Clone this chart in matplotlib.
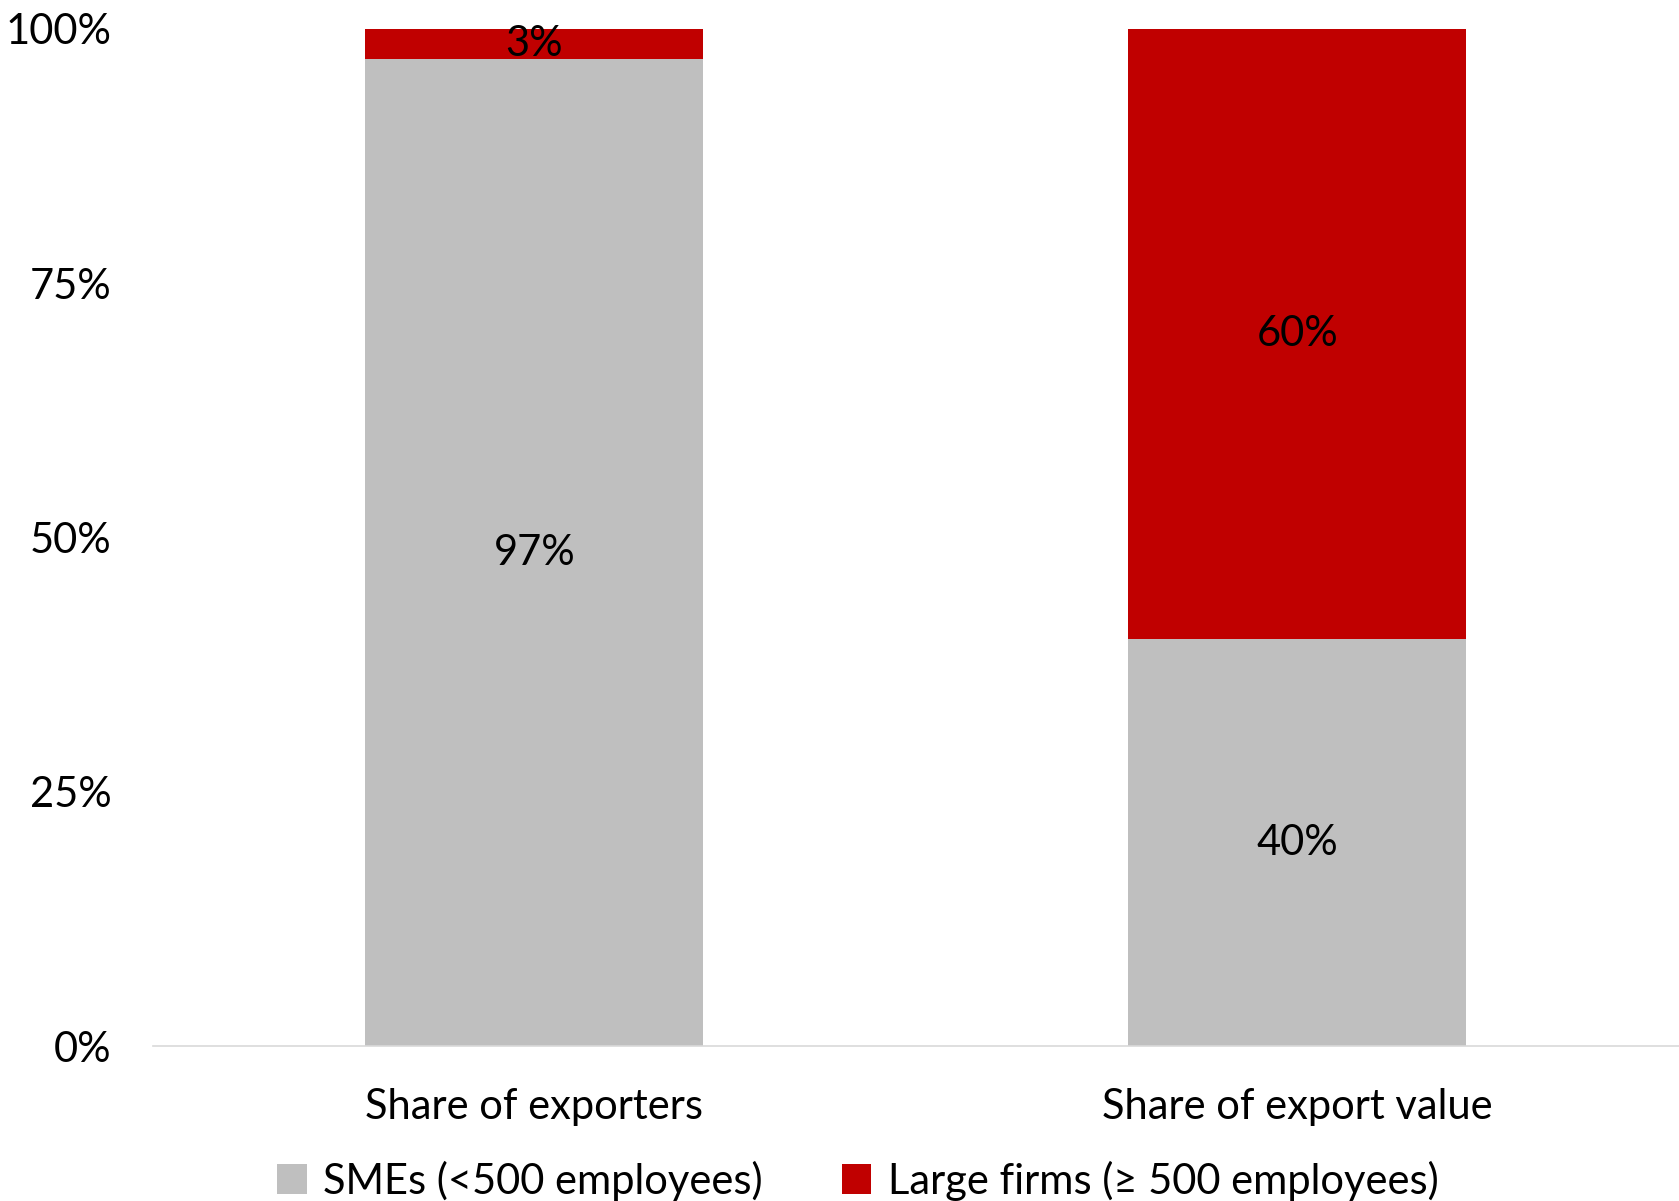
import matplotlib.pyplot as plt
import numpy as np

plt.rcParams['font.family'] = ['Lato', 'DejaVu Sans']

categories = ['Share of exporters', 'Share of export value']
smes = [97, 40]
large = [3, 60]
series_names = ['SMEs (<500 employees)', 'Large firms (\u2265 500 employees)']
yticks = [0, 25, 50, 75, 100]

GREY = '#BFBFBF'
RED = '#C00000'
FS = 30

fig = plt.figure(figsize=(16.79, 12.01), dpi=100)
ax = fig.add_axes([0.0911, 0.1290, 0.9089, 0.8469])

x = np.arange(len(categories))
w = 0.443
b1 = ax.bar(x, smes, w, color=GREY, label=series_names[0])
b2 = ax.bar(x, large, w, bottom=smes, color=RED, label=series_names[1])

# value labels centred in each segment
for xi, s, l in zip(x, smes, large):
    ax.text(xi, s / 2, f'{s}%', ha='center', va='center', fontsize=FS)
    ax.text(xi, s + l / 2, f'{l}%', ha='center', va='center', fontsize=FS)

ax.set_xlim(-0.5, 1.5)
ax.set_ylim(0, 100)
ax.set_yticks(yticks)
ax.set_yticklabels([f'{t}%' for t in yticks], fontsize=FS)
ax.set_xticks(x)
ax.set_xticklabels(categories, fontsize=FS)
ax.tick_params(axis='y', length=0, pad=30)
ax.tick_params(axis='x', length=0, pad=30)

for side in ['top', 'right', 'left']:
    ax.spines[side].set_visible(False)
ax.spines['bottom'].set_color('#D9D9D9')
ax.spines['bottom'].set_linewidth(1.2)

fig.legend(handles=[b1, b2], loc='center', bbox_to_anchor=(858 / 1679, 0.017),
           ncol=2, frameon=False, fontsize=FS, handlelength=0.7, handleheight=0.7,
           handletextpad=0.4, columnspacing=1.9)

plt.savefig('out.png', dpi=100)
